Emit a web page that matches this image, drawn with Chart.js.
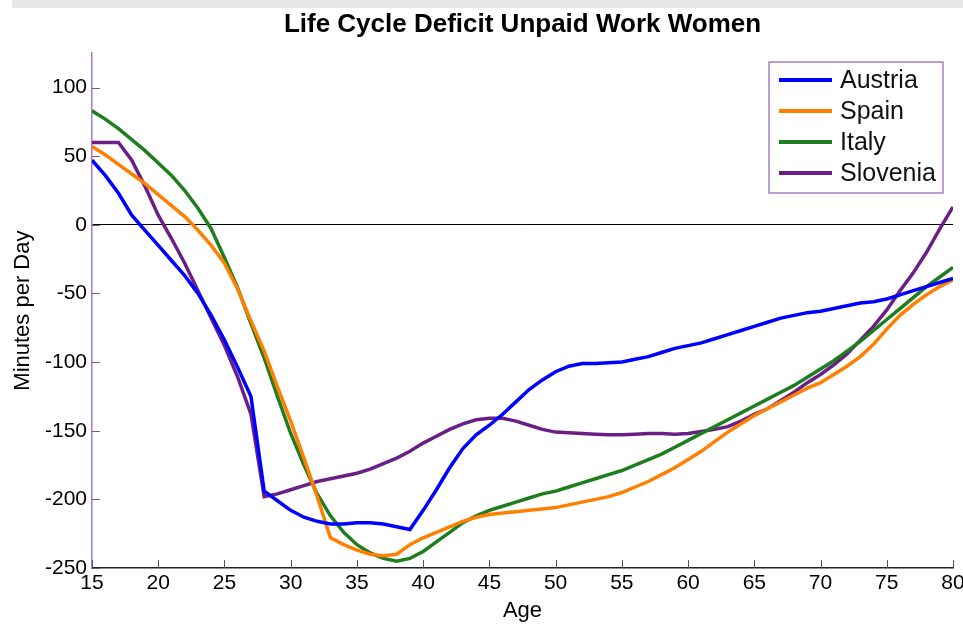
<!DOCTYPE html>
<html lang="en">
<head>
<meta charset="UTF-8">
<title>Life Cycle Deficit Unpaid Work Women</title>
<script src="https://cdn.jsdelivr.net/npm/chart.js"></script>
<style>
  html, body { margin: 0; padding: 0; background: #fff; }
  #wrap { width: 963px; height: 624px; }
</style>
</head>
<body>
<div id="wrap"><canvas id="lcd" width="963" height="624"></canvas></div>
<script>
// ages 15..80, one value per year (minutes per day)
const ages = [15,16,17,18,19,20,21,22,23,24,25,26,27,28,29,30,31,32,33,34,35,36,37,38,39,40,
  41,42,43,44,45,46,47,48,49,50,51,52,53,54,55,56,57,58,59,60,61,62,63,64,65,66,67,68,69,70,
  71,72,73,74,75,76,77,78,79,80];

const austria = [47,36,23,7,-4,-15,-26,-37,-50,-66,-84,-104,-125,-194,-201,-208,-213,-216,-218,-218,
  -217,-217,-218,-220,-222,-208,-193,-177,-163,-153,-146,-138,-129,-120,-113,-107,-103,-101,-101,-100.5,
  -100,-98,-96,-93,-90,-88,-86,-83,-80,-77,-74,-71,-68,-66,-64,-63,-61,-59,-57,-56,
  -54,-51,-48,-45,-42,-39];

const spain = [57,51,44,37,30,22,14,6,-4,-15,-28,-47,-70,-92,-118,-143,-170,-198,-228,-233,
  -237,-240,-241,-240,-233,-228,-224,-220,-216,-213,-211,-210,-209,-208,-207,-206,-204,-202,-200,-198,
  -195,-191,-187,-182,-177,-171,-165,-158,-151,-145,-139,-134,-129,-124,-119,-115,-109,-103,-96,-87,
  -76,-66,-58,-51,-45,-40];

const italy = [83,77,70,62,54,45,36,25,12,-3,-24,-46,-72,-97,-125,-152,-175,-196,-212,-224,
  -233,-239,-243,-245,-243,-238,-231,-224,-217,-212,-208,-205,-202,-199,-196,-194,-191,-188,-185,-182,
  -179,-175,-171,-167,-162,-157,-152,-147,-142,-137,-132,-127,-122,-117,-111,-105,-99,-92,-85,-77,
  -69,-61,-53,-45,-38,-31];

const slovenia = [60,60,60,47,28,7,-10,-28,-48,-68,-88,-111,-138,-198,-196,-193,-190,-187,-185,-183,
  -181,-178,-174,-170,-165,-159,-154,-149,-145,-142,-141,-141,-143,-146,-149,-151,-151.5,-152,-152.5,-153,
  -153,-152.5,-152,-152,-152.5,-152,-150.5,-149,-147,-143,-138,-134,-128,-122,-115,-109,-102,-94,-84,-74,
  -62,-48,-35,-20,-3,13];

const countries = ['Austria', 'Spain', 'Italy', 'Slovenia'];
const colours = ['#0000ff', '#ff8000', '#1e7d1e', '#6a1f86'];
const series = [austria, spain, italy, slovenia];

const yTicks = [-250, -200, -150, -100, -50, 0, 50, 100];
const xTicks = [15, 20, 25, 30, 35, 40, 45, 50, 55, 60, 65, 70, 75, 80];

const FONT = "'Liberation Sans', Arial, sans-serif";

// grey strip at the very top, like the screenshot
const backdrop = {
  id: 'backdrop',
  beforeDraw(chart) {
    const c = chart.ctx;
    c.save();
    c.fillStyle = '#fff';
    c.fillRect(0, 0, chart.width, chart.height);
    c.fillStyle = '#e6e6e6';
    c.fillRect(12, 0, chart.width - 12, 8);
    c.restore();
  }
};

// matlab style ticks pointing inward + boxed legend inside the axes
const matlabBits = {
  id: 'matlabBits',
  afterDraw(chart) {
    const c = chart.ctx;
    const xs = chart.scales.x, ys = chart.scales.y;
    const area = chart.chartArea;
    c.save();
    c.lineWidth = 1;
    c.strokeStyle = '#7b4f99';
    yTicks.forEach(v => {
      const py = Math.round(ys.getPixelForValue(v)) + 0.5;
      c.beginPath(); c.moveTo(area.left, py); c.lineTo(area.left + 8, py); c.stroke();
    });
    c.strokeStyle = '#555';
    xTicks.forEach(v => {
      const px = Math.round(xs.getPixelForValue(v)) + 0.5;
      c.beginPath(); c.moveTo(px, area.bottom); c.lineTo(px, area.bottom - 8); c.stroke();
    });

    // legend
    const bx = 769, by = 62, bw = 174, bh = 131;
    c.fillStyle = '#fff';
    c.fillRect(bx, by, bw, bh);
    c.strokeStyle = '#a680c0';
    c.lineWidth = 1.5;
    c.strokeRect(bx, by, bw, bh);
    c.font = '25px ' + FONT;
    c.textBaseline = 'middle';
    chart.data.datasets.forEach((ds, i) => {
      const ly = by + 18 + i * 31;
      c.strokeStyle = ds.borderColor;
      c.lineWidth = 4;
      c.beginPath(); c.moveTo(779, ly); c.lineTo(832, ly); c.stroke();
      c.fillStyle = '#111';
      c.fillText(ds.label, 840, ly + 1);
    });
    c.restore();
  }
};

new Chart(document.getElementById('lcd'), {
  type: 'line',
  data: {
    datasets: countries.map((name, i) => ({
      label: name,
      data: ages.map((a, k) => ({ x: a, y: series[i][k] })),
      borderColor: colours[i],
      backgroundColor: colours[i],
      borderWidth: 3.5,
      pointRadius: 0,
      tension: 0
    }))
  },
  options: {
    responsive: false,
    animation: false,
    layout: { padding: { top: 0, right: 10, bottom: 0, left: 0 } },
    plugins: {
      legend: { display: false },
      tooltip: { enabled: false },
      title: {
        display: true,
        fullSize: false,
        text: 'Life Cycle Deficit Unpaid Work Women',
        color: '#000',
        font: { family: FONT, size: 26, weight: 'bold', lineHeight: 1.2 },
        padding: { top: 9, bottom: 13 }
      }
    },
    scales: {
      x: {
        type: 'linear',
        min: 15,
        max: 80,
        afterFit(s) { s.height = 56; s.paddingLeft = 0; s.paddingRight = 0; },
        afterBuildTicks(s) { s.ticks = xTicks.map(v => ({ value: v })); },
        ticks: { color: '#000', padding: 3, maxRotation: 0, font: { family: FONT, size: 21 } },
        grid: { display: false, drawTicks: false },
        border: { display: true, color: '#222', width: 1.5 },
        title: {
          display: true, text: 'Age', color: '#000',
          font: { family: FONT, size: 22 }, padding: { top: 0, bottom: 0 }
        }
      },
      y: {
        type: 'linear',
        min: -250,
        max: 125,
        afterFit(s) { s.width = 92; s.paddingTop = 0; s.paddingBottom = 0; },
        afterBuildTicks(s) { s.ticks = yTicks.map(v => ({ value: v })); },
        ticks: { color: '#000', padding: 5, font: { family: FONT, size: 21 } },
        grid: {
          drawTicks: false,
          color: ctx => (ctx.tick && ctx.tick.value === 0 ? '#000' : 'rgba(0,0,0,0)'),
          lineWidth: 1
        },
        border: { display: true, color: '#a57cc2', width: 1.5 },
        title: {
          display: true, text: 'Minutes per Day', color: '#000',
          font: { family: FONT, size: 22 }, padding: { top: 10, bottom: 0 }
        }
      }
    }
  },
  plugins: [backdrop, matlabBits]
});
</script>
</body>
</html>
